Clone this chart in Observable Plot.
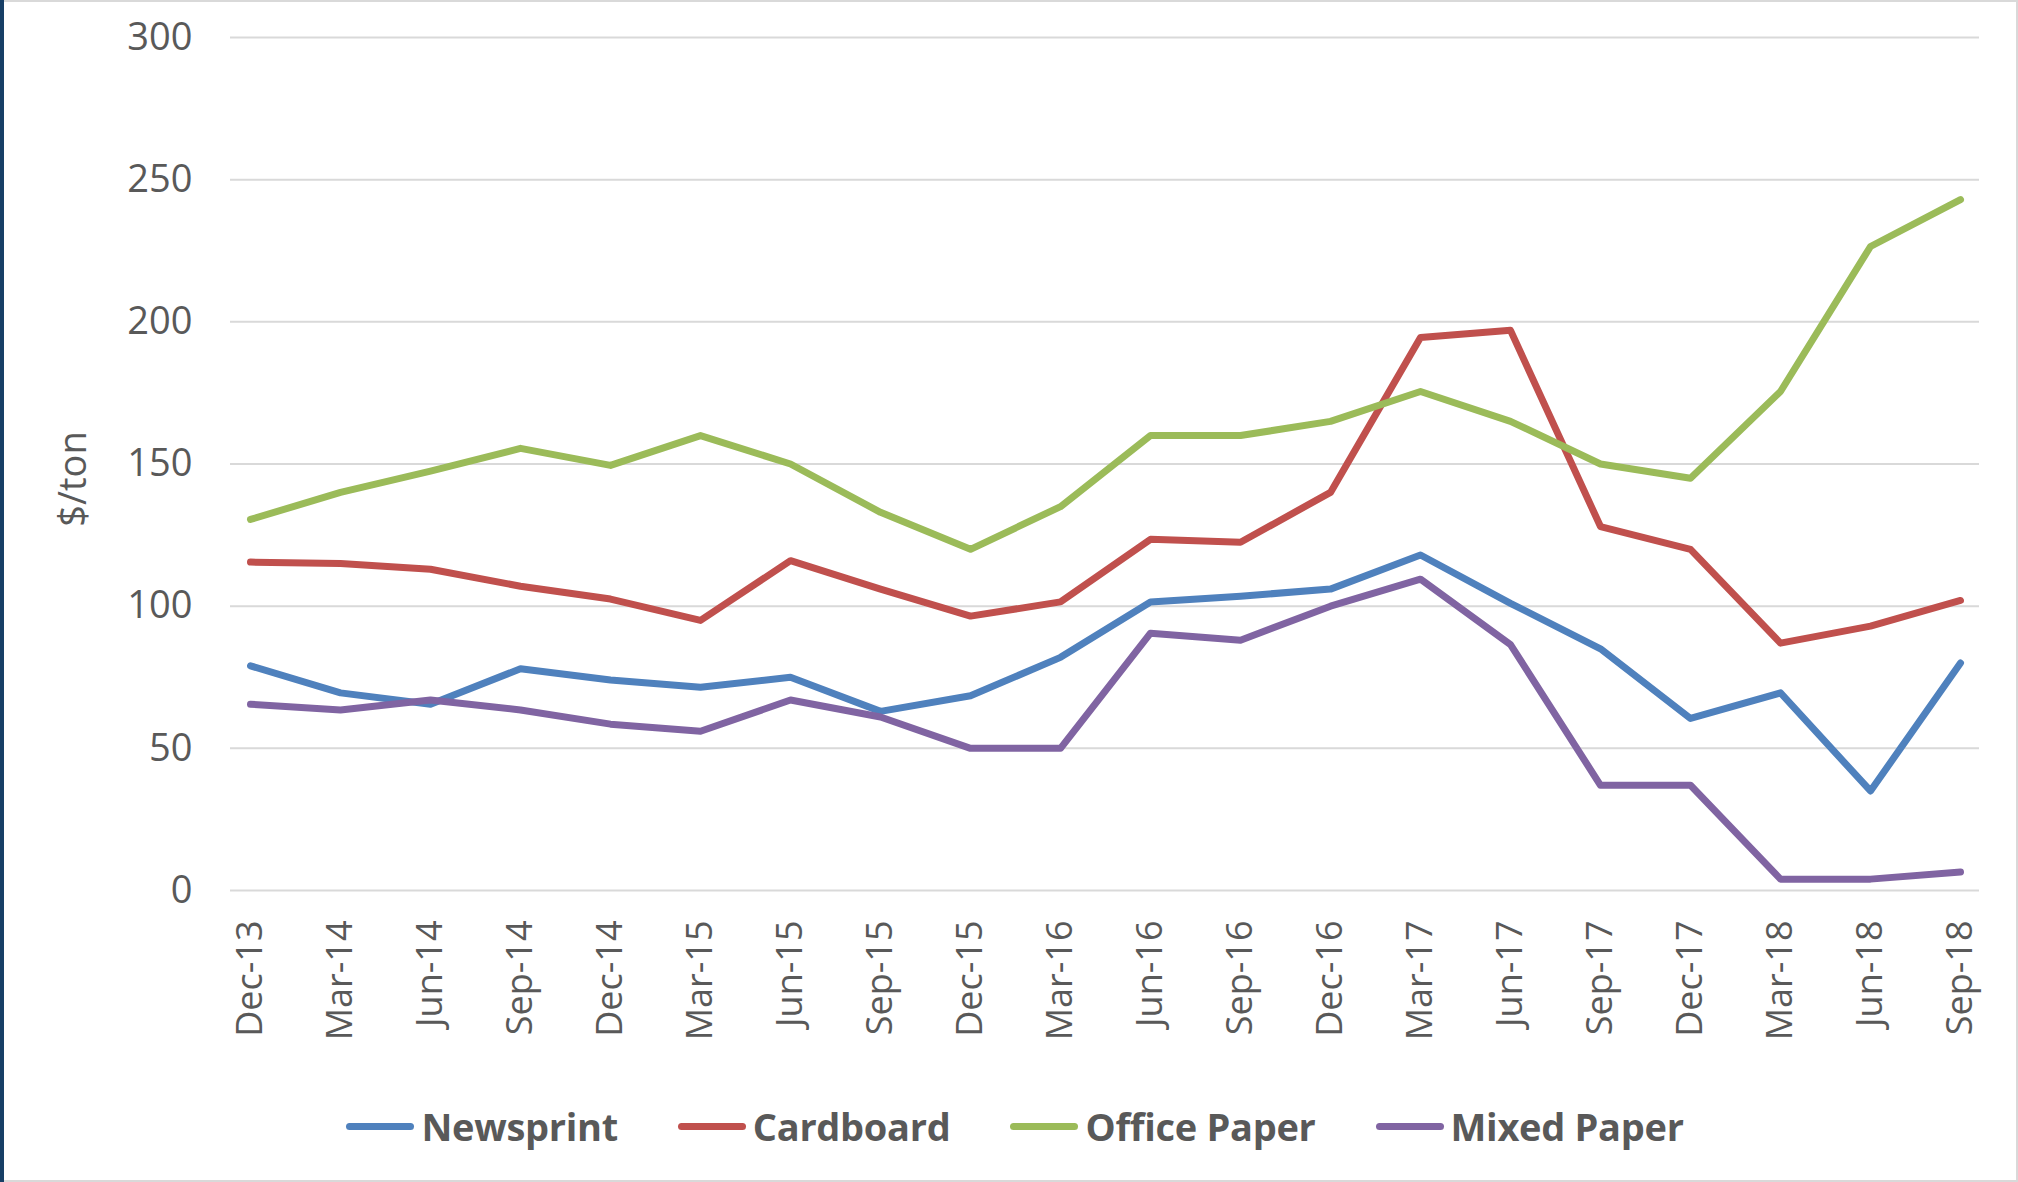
<!DOCTYPE html>
<html>
<head>
<meta charset="utf-8">
<script src="https://cdn.jsdelivr.net/npm/d3@7"></script>
<script src="https://cdn.jsdelivr.net/npm/@observablehq/plot@0.6"></script>
<style>
  body { margin: 0; background: #fff; }
  #wrap { position: relative; width: 2018px; height: 1182px; overflow: hidden; background: #fff; font-family: "Open Sans", sans-serif; color: #595959; }
  #chart { position: absolute; left: 0; top: 0; }
  #ylabel { position: absolute; left: 71px; top: 479px; transform: translate(-50%, -50%) rotate(-90deg); font-size: 38px; white-space: nowrap; }
  #legend { position: absolute; left: 0; top: 1090px; width: 2018px; height: 72px; display: flex; justify-content: center; align-items: center; gap: 60px; padding-left: 12px; box-sizing: border-box; }
  .item { display: flex; align-items: center; gap: 7px; font-weight: 700; font-size: 38px; letter-spacing: -0.3px; }
  .sw { width: 68px; height: 7px; border-radius: 4px; }
  #border { position: absolute; left: 0; top: 0; width: 2018px; height: 1182px; box-sizing: border-box; border: 2px solid #d9d9d9; pointer-events: none; }
  #navy { position: absolute; left: 0; top: 0; width: 4px; height: 1182px; background: #173f66; }
</style>
</head>
<body>
<div id="wrap">
  <div id="chart"></div>
  <div id="ylabel">$/ton</div>
  <div id="legend"></div>
  <div id="border"></div>
  <div id="navy"></div>
</div>
<script>
const dates = ["Dec-13","Mar-14","Jun-14","Sep-14","Dec-14","Mar-15","Jun-15","Sep-15","Dec-15","Mar-16",
               "Jun-16","Sep-16","Dec-16","Mar-17","Jun-17","Sep-17","Dec-17","Mar-18","Jun-18","Sep-18"];
const newsprint   = [79, 69.5, 65.5, 78, 74, 71.5, 75, 63, 68.5, 82, 101.5, 103.5, 106, 118, 101, 85, 60.5, 69.5, 35, 80];
const cardboard   = [115.5, 115, 113, 107, 102.5, 95, 116, 106, 96.5, 101.5, 123.5, 122.5, 140, 194.5, 197, 128, 120, 87, 93, 102];
const officePaper = [130.5, 140, 147.5, 155.5, 149.5, 160, 150, 133, 120, 135, 160, 160, 165, 175.5, 165, 150, 145, 175.5, 226.5, 243];
const mixedPaper  = [65.5, 63.5, 67, 63.5, 58.5, 56, 67, 61, 50, 50, 90.5, 88, 100, 109.5, 86.5, 37, 37, 4, 4, 6.5];
const seriesNames = ["Newsprint", "Cardboard", "Office Paper", "Mixed Paper"];
const seriesColors = ["#4F81BD", "#C0504D", "#9BBB59", "#8064A2"];
const yTicks = [0, 50, 100, 150, 200, 250, 300];

const seriesValues = [newsprint, cardboard, officePaper, mixedPaper];
const data = seriesNames.flatMap((name, s) =>
  dates.map((d, i) => ({series: name, date: d, value: seriesValues[s][i]})));

const chart = Plot.plot({
  width: 2018,
  height: 1090,
  marginLeft: 230,
  marginRight: 39,
  marginTop: 37,
  marginBottom: 200,
  style: {fontFamily: "Open Sans, sans-serif", color: "#595959", background: "transparent"},
  x: {type: "point", domain: dates, padding: 0.16},
  y: {domain: [0, 300]},
  color: {domain: seriesNames, range: seriesColors},
  marks: [
    Plot.gridY(yTicks, {stroke: "#d9d9d9", strokeOpacity: 1, strokeWidth: 2}),
    Plot.axisY(yTicks, {tickSize: 0, tickPadding: 38, label: null, fontSize: 38}),
    Plot.axisX({tickRotate: -90, tickSize: 0, tickPadding: 30, label: null, fontSize: 36}),
    Plot.line(data, {x: "date", y: "value", z: "series", stroke: "series", strokeWidth: 7,
                     strokeLinejoin: "round", strokeLinecap: "round"})
  ]
});
document.getElementById("chart").appendChild(chart);

const legend = document.getElementById("legend");
seriesNames.forEach((name, i) => {
  const item = document.createElement("div");
  item.className = "item";
  const sw = document.createElement("div");
  sw.className = "sw";
  sw.style.background = seriesColors[i];
  const label = document.createElement("span");
  label.textContent = name;
  item.appendChild(sw);
  item.appendChild(label);
  legend.appendChild(item);
});
</script>
</body>
</html>
